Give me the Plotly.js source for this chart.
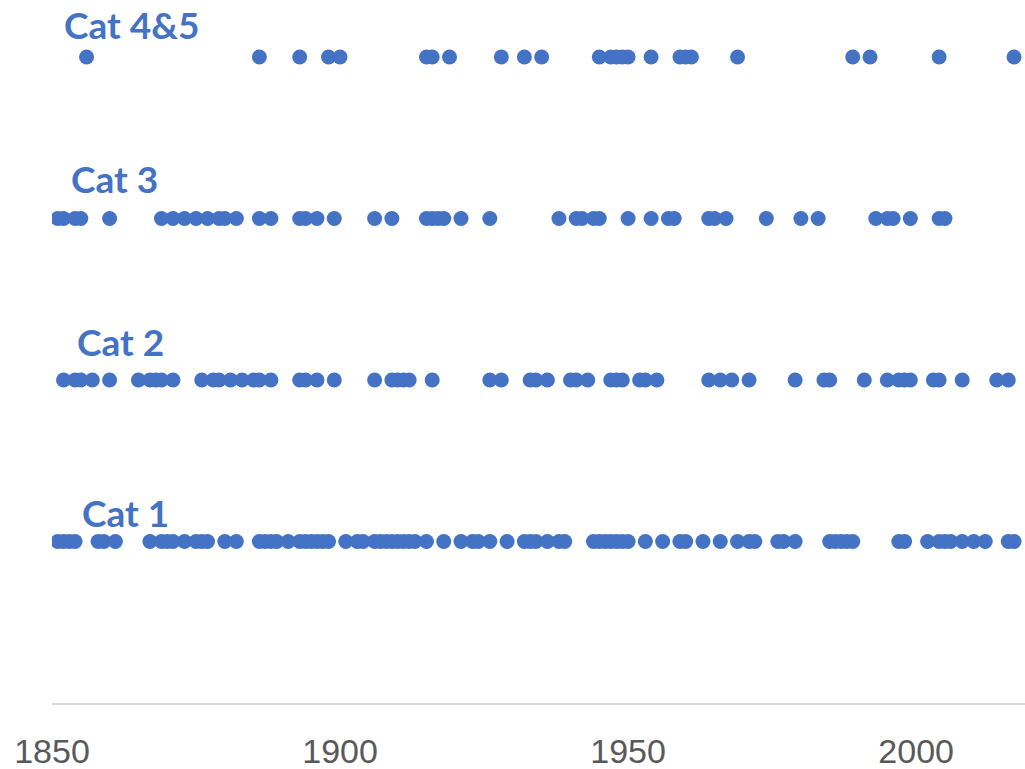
<!DOCTYPE html>
<html>
<head>
<meta charset="utf-8">
<script src="https://cdn.plot.ly/plotly-3.0.1.min.js"></script>
<style>html,body{margin:0;padding:0;background:#fff;}#chart{width:1025px;height:769px;}</style>
</head>
<body>
<div id="chart"></div>
<script>
// Landfall years by category
const cat45Years = [1856,1886,1893,1898,1900,1915,1916,1919,1928,1932,1935,1945,1947,1948,1949,1950,1954,1959,1960,1961,1969,1989,1992,2004,2017];
const cat3Years = [1851,1852,1854,1855,1860,1869,1871,1873,1875,1877,1879,1880,1882,1886,1888,1893,1894,1896,1899,1906,1909,1915,1916,1917,1918,1921,1926,1938,1941,1942,1944,1945,1950,1954,1957,1958,1964,1965,1967,1974,1980,1983,1993,1995,1996,1999,2004,2005];
const cat2Years = [1852,1854,1855,1857,1860,1865,1867,1868,1869,1871,1876,1878,1879,1881,1883,1885,1886,1888,1893,1894,1896,1899,1906,1909,1910,1911,1912,1916,1926,1928,1933,1934,1936,1940,1941,1943,1947,1948,1949,1952,1953,1955,1964,1966,1968,1971,1979,1984,1985,1991,1995,1997,1998,1999,2003,2004,2008,2014,2016];
const cat1Years = [1851,1852,1853,1854,1858,1859,1861,1867,1869,1870,1871,1873,1875,1876,1877,1880,1882,1886,1887,1888,1889,1891,1893,1894,1895,1896,1897,1898,1901,1903,1904,1906,1907,1908,1909,1910,1911,1912,1913,1915,1918,1921,1923,1924,1926,1929,1932,1933,1934,1936,1938,1939,1944,1945,1946,1947,1948,1949,1950,1953,1956,1959,1960,1963,1966,1969,1971,1972,1976,1977,1979,1985,1986,1987,1988,1989,1997,1998,2002,2004,2005,2006,2008,2010,2012,2016,2017];
const categoryLabels = ["Cat 1","Cat 2","Cat 3","Cat 4&5"];
const categoryLevels = [1,2,3,4];
const tickYears = [1850,1900,1950,2000];

const series = [cat1Years, cat2Years, cat3Years, cat45Years];
const traces = series.map((yrs, i) => ({
  type: 'scatter',
  mode: 'markers',
  x: yrs,
  y: yrs.map(() => categoryLevels[i]),
  name: categoryLabels[i],
  marker: {color: '#4472C4', size: 15, line: {width: 0}},
  hoverinfo: 'x+name'
}));

const labelPos = [
  {x: 1854.9, y: 1.18},
  {x: 1854.0, y: 2.24},
  {x: 1852.9, y: 3.25},
  {x: 1851.8, y: 4.2}
];
const annotations = categoryLabels.map((t, i) => ({
  text: t, xref: 'x', yref: 'y', x: labelPos[i].x, y: labelPos[i].y,
  xanchor: 'left', yanchor: 'middle', showarrow: false,
  font: {family: 'Lato, "Open Sans", sans-serif', size: 37, color: '#4472C4', weight: 'bold'}
}));

const layout = {
  width: 1025, height: 769,
  margin: {l: 52, r: 0, t: 0, b: 66},
  paper_bgcolor: '#fff', plot_bgcolor: '#fff',
  showlegend: false,
  xaxis: {
    range: [1850, 2018.9],
    tickvals: tickYears,
    ticktext: tickYears.map(String),
    showgrid: false, zeroline: false,
    showline: true, linecolor: '#d9d9d9', linewidth: 2,
    ticks: '', ticklabelstandoff: 17,
    tickfont: {family: '"Liberation Sans Narrow", "Liberation Sans", sans-serif', size: 34, color: '#595959'}
  },
  yaxis: {
    range: [0, 4.353],
    showgrid: false, zeroline: false, showline: false,
    showticklabels: false, ticks: ''
  },
  annotations: annotations
};

Plotly.newPlot('chart', traces, layout, {displayModeBar: false, staticPlot: true});
</script>
</body>
</html>
